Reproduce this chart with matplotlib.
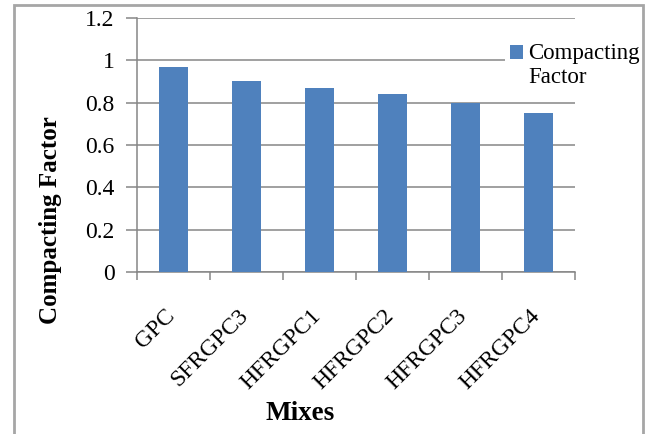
import matplotlib.pyplot as plt
from matplotlib.patches import Rectangle
from matplotlib.transforms import ScaledTranslation
import numpy as np

# compacting factor test results per mix
mixes = ['GPC', 'SFRGPC3', 'HFRGPC1', 'HFRGPC2', 'HFRGPC3', 'HFRGPC4']
compacting_factor = [0.97, 0.90, 0.87, 0.84, 0.80, 0.75]
y_ticks = [0, 0.2, 0.4, 0.6, 0.8, 1.0, 1.2]
y_tick_labels = ['0', '0.2', '0.4', '0.6', '0.8', '1', '1.2']

plt.rcParams['font.family'] = ['Liberation Serif', 'DejaVu Serif']
bar_col = '#4f81bd'
line_col = '#868686'

fig = plt.figure(figsize=(6.53, 4.34), dpi=100)
ax = fig.add_axes([0.2098, 0.3733, 0.6708, 0.5853])

x = np.arange(len(mixes))
ax.bar(x, compacting_factor, width=0.41, color=bar_col, zorder=3,
       label='Compacting\nFactor')

ax.set_xlim(-0.5, len(mixes) - 0.5)
ax.set_ylim(0, 1.2)
ax.set_yticks(y_ticks)
ax.set_yticklabels(y_tick_labels, fontsize=17)
ax.yaxis.grid(True, color=line_col, lw=1.1, zorder=0)

# category labels at the centres, tick marks at the boundaries
ax.set_xticks(x)
ax.set_xticklabels(mixes, fontsize=17, rotation=45, ha='right', va='top')
ax.set_xticks(np.arange(len(mixes) + 1) - 0.5, minor=True)
ax.tick_params(axis='x', which='major', length=0, pad=24)
ax.tick_params(axis='x', which='minor', length=6, color=line_col, width=1.1)
ax.tick_params(axis='y', length=8, color=line_col, width=1.1, pad=8)
for lab in ax.get_xticklabels():
    lab.set_transform(lab.get_transform() + ScaledTranslation(0.06, 0, fig.dpi_scale_trans))

for s in ['top', 'right']:
    ax.spines[s].set_visible(False)
for s in ['left', 'bottom']:
    ax.spines[s].set_color(line_col)
    ax.spines[s].set_linewidth(1.1)

fig.text(0.078, 0.493, 'Compacting Factor', rotation=90, fontsize=18,
         fontweight='bold', ha='center', va='center')
fig.text(0.46, 0.048, 'Mixes', fontsize=19.5, fontweight='bold',
         ha='center', va='center')

leg = ax.legend(loc='upper left', bbox_to_anchor=(0.774, 0.912),
                bbox_transform=fig.transFigure, fontsize=16.5,
                frameon=True, fancybox=False, framealpha=1,
                handlelength=0.58, handleheight=0.58, handletextpad=0.2,
                borderpad=0.2, borderaxespad=0)
leg.get_frame().set_edgecolor('none')
leg.get_frame().set_facecolor('white')
leg.set_zorder(5)
# put the key square beside the first line of the label
sq = leg.legend_handles[0]
sq.set_y(sq.get_y() + 9.5)

# chart border
fig.patches.append(Rectangle((0.0214, -0.05), 0.963, 1.0385, transform=fig.transFigure,
                             fill=False, edgecolor='#a6a6a6', lw=2))

fig.savefig('out.png', dpi=100)
